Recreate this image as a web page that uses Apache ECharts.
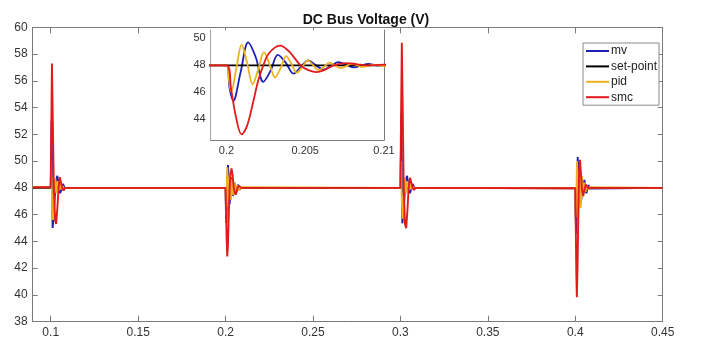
<!DOCTYPE html>
<html>
<head>
<meta charset="utf-8">
<script src="https://cdn.jsdelivr.net/npm/echarts@6/dist/echarts.min.js"></script>
<style>html,body{margin:0;padding:0;background:#fff}#c{width:707px;height:342px}</style>
</head>
<body>
<div id="c"></div>
<script>
// ---- data (time [s], voltage [V]) ----
const seriesNames = ['mv', 'set-point', 'pid', 'smc'];
const xTicks = [0.1, 0.15, 0.2, 0.25, 0.3, 0.35, 0.4, 0.45];
const yTicks = [38, 40, 42, 44, 46, 48, 50, 52, 54, 56, 58, 60];
const insetXTicks = [0.2, 0.205, 0.21];
const insetYTicks = [44, 46, 48, 50];

const mvData = [
  [0.09,48.05],[0.1,48.05],[0.1003,50.5],[0.1005,53],[0.1008,49],[0.1011,45.0],[0.1016,45.8],[0.1024,47.5],[0.1032,48.6],[0.1038,48.9],[0.1046,48.2],[0.1054,47.6],[0.1062,47.9],[0.107,48.3],[0.108,48.0],[0.109,48.05],[0.11,48.0],
  [0.2,48],[0.2002,46.3],[0.20043,45.37],[0.2009,47.5],[0.20138,49.7],[0.20186,48.6],[0.20234,46.78],[0.2028,47.6],[0.20326,48.78],[0.20376,48.2],[0.20426,47.39],[0.20473,47.9],[0.2052,48.37],[0.20568,48.0],[0.20617,47.68],[0.20663,47.95],[0.2071,48.24],[0.2076,48.05],[0.20809,47.85],[0.20857,48.0],[0.20904,48.1],[0.2095,48.0],[0.21,48.0],
  [0.3,48.0],[0.3003,50.8],[0.3005,53.5],[0.3008,49],[0.3011,45.35],[0.3016,46.0],[0.3024,47.5],[0.3032,48.6],[0.3038,48.9],[0.3046,48.2],[0.3054,47.6],[0.3062,47.9],[0.307,48.3],[0.308,48.0],[0.309,48.05],[0.31,48.0],
  [0.4,47.97],[0.4002,46],[0.4005,44.6],[0.4009,47.5],[0.4014,50.3],[0.4019,49],[0.4024,47.4],[0.403,46.8],[0.4038,46.85],[0.4045,48.0],[0.4052,48.6],[0.4058,47.9],[0.4064,47.6],[0.407,48.0],[0.4076,48.2],[0.4084,47.95],[0.4095,48.0],[0.45,48.0]
];
const setData = [[0.09,48],[0.45,48]];
const pidData = [
  [0.09,48.05],[0.1,48.05],[0.1003,50.1],[0.1008,47],[0.1013,45.6],[0.1019,47.5],[0.1026,48.7],[0.1033,47.6],[0.104,48.5],[0.1047,47.8],[0.1054,48.3],[0.1061,47.9],[0.1068,48.15],[0.1075,48.0],[0.109,48.0],[0.11,48.0],
  [0.2,48],[0.20015,47],[0.2003,46.05],[0.20063,47.8],[0.20096,49.54],[0.20131,48.2],[0.20166,46.6],[0.20202,47.7],[0.20238,48.98],[0.20273,48.1],[0.20309,47.1],[0.20344,47.8],[0.20379,48.68],[0.20413,48.1],[0.20447,47.46],[0.20482,47.9],[0.20517,48.37],[0.20551,48.0],[0.20585,47.63],[0.2062,47.9],[0.20655,48.2],[0.20689,48.0],[0.20723,47.8],[0.2076,47.95],[0.20798,48.12],[0.2083,48.0],[0.2086,47.88],[0.209,47.97],[0.20936,48.05],[0.2097,48.0],[0.21,47.95],
  [0.3,48.0],[0.3003,50.0],[0.3008,47],[0.3013,45.7],[0.3019,47.5],[0.3026,48.7],[0.3033,47.6],[0.304,48.5],[0.3047,47.8],[0.3054,48.3],[0.3061,47.9],[0.3068,48.15],[0.3075,48.0],[0.309,48.0],[0.31,48.0],
  [0.4,47.97],[0.40015,46.8],[0.4003,45.8],[0.40065,47.6],[0.401,50.0],[0.40135,48.2],[0.4017,45.7],[0.40205,47.4],[0.4024,49.3],[0.40275,48.2],[0.4031,46.5],[0.40345,47.6],[0.4038,48.9],[0.40415,48.1],[0.4045,47.3],[0.4052,48.4],[0.4059,47.7],[0.4066,48.2],[0.4073,47.9],[0.408,48.05],[0.409,47.97],[0.45,48.0]
];
const smcData = [
  [0.09,48.05],[0.1,48.05],[0.1003,52],[0.1007,57.3],[0.1012,53],[0.1018,48],[0.1025,45.6],[0.1031,45.3],[0.1038,46.5],[0.1045,48],[0.1052,48.8],[0.1058,48.7],[0.1066,48],[0.1074,47.8],[0.1082,48.0],[0.109,48.1],[0.11,48.0],
  [0.2,48],[0.2003,46.2],[0.2006,44.2],[0.20096,42.88],[0.2013,43.5],[0.2017,45.3],[0.202,46.8],[0.20234,48],[0.2027,48.9],[0.2034,49.46],[0.204,49.0],[0.2047,48],[0.2052,47.65],[0.20574,47.5],[0.2062,47.65],[0.2068,48],[0.20766,48.17],[0.2083,48.08],[0.2089,48.0],[0.2095,48.02],[0.21,48.05],
  [0.3,48.0],[0.3003,52.5],[0.3008,58.85],[0.3013,54],[0.3019,48],[0.3026,45.3],[0.3033,44.98],[0.304,46.3],[0.3047,48],[0.3055,48.75],[0.3062,48.75],[0.307,48.0],[0.3078,47.85],[0.3086,48.0],[0.3094,48.1],[0.31,48.0],
  [0.4,47.97],[0.4003,45],[0.4006,41.5],[0.4009,39.82],[0.4013,42],[0.4018,46.5],[0.4022,49.2],[0.4027,50.1],[0.4032,49.2],[0.4038,47.9],[0.4045,47.4],[0.4052,47.8],[0.406,48.25],[0.4068,48.1],[0.4076,47.95],[0.409,48.0],[0.45,48.0]
];
const dataByName = [mvData, setData, pidData, smcData];
const colors = ['#1f1fb4', '#000000', '#EDB120', '#e3191c'];

// ---- chart ----
const font = 'Liberation Sans, Arial, Helvetica, sans-serif';
const axisCol = '#7a7a7a';
const labCol = '#333';
const fmt = v => String(+v.toFixed(4));

function mkAx(grid, min, max, ticks, pos, showLab, fs, tl) {
  return {
    type: 'value', gridIndex: grid, min: min, max: max, position: pos,
    splitLine: {show: false},
    axisLine: {show: true, onZero: false, lineStyle: {color: axisCol, width: 1}},
    axisTick: {show: true, inside: true, length: tl, customValues: ticks, lineStyle: {color: axisCol}},
    axisLabel: {show: showLab, customValues: ticks, formatter: fmt, color: labCol, fontSize: fs, fontFamily: font, margin: 5}
  };
}

const series = [];
seriesNames.forEach((n, i) => {
  series.push({
    name: n, type: 'line', xAxisIndex: 0, yAxisIndex: 0, data: dataByName[i],
    showSymbol: false, symbol: 'none', lineStyle: {color: colors[i], width: 1.9}, itemStyle: {color: colors[i]},
    animation: false, z: 2 + i
  });
});
seriesNames.forEach((n, i) => {
  series.push({
    name: n, type: 'line', xAxisIndex: 2, yAxisIndex: 2, data: dataByName[i],
    showSymbol: false, symbol: 'none', smooth: 0.35, lineStyle: {color: colors[i], width: 1.8}, itemStyle: {color: colors[i]},
    animation: false, z: 12 + i
  });
});

const chart = echarts.init(document.getElementById('c'), null, {renderer: 'canvas'});
chart.setOption({
  backgroundColor: '#fff',
  animation: false,
  title: {
    text: 'DC Bus Voltage (V)', left: 361, top: 8, textAlign: 'center',
    textStyle: {fontSize: 14, fontWeight: 'bold', color: '#111', fontFamily: font}
  },
  legend: {
    data: seriesNames, orient: 'vertical', left: 583, top: 43,
    itemWidth: 23, itemHeight: 2, itemGap: 3.4, icon: 'rect',
    padding: [2, 2, 2, 3], borderColor: '#8a8a8a', borderWidth: 1, backgroundColor: '#fff',
    textStyle: {fontSize: 12, color: '#222', fontFamily: font, padding: [0, 0, 0, -3]},
    selectedMode: false, z: 30
  },
  grid: [
    {left: 32.7, right: 44.3, top: 27.3, bottom: 20.3, show: false},
    {left: 210.7, top: 30, width: 173.3, height: 110, show: true, backgroundColor: '#fff', borderWidth: 0, z: 10}
  ],
  xAxis: [
    mkAx(0, 0.0897, 0.45, xTicks, 'bottom', true, 12, 6),
    mkAx(0, 0.0897, 0.45, xTicks, 'top', false, 12, 6),
    mkAx(1, 0.199, 0.21, insetXTicks, 'bottom', true, 11, 3),
    mkAx(1, 0.199, 0.21, insetXTicks, 'top', false, 11, 3)
  ],
  yAxis: [
    mkAx(0, 38, 60, yTicks, 'left', true, 12, 5),
    mkAx(0, 38, 60, yTicks, 'right', false, 12, 5),
    mkAx(1, 42.47, 50.62, insetYTicks, 'left', true, 11, 3),
    mkAx(1, 42.47, 50.62, insetYTicks, 'right', false, 11, 3)
  ],
  series: series
});
</script>
</body>
</html>
